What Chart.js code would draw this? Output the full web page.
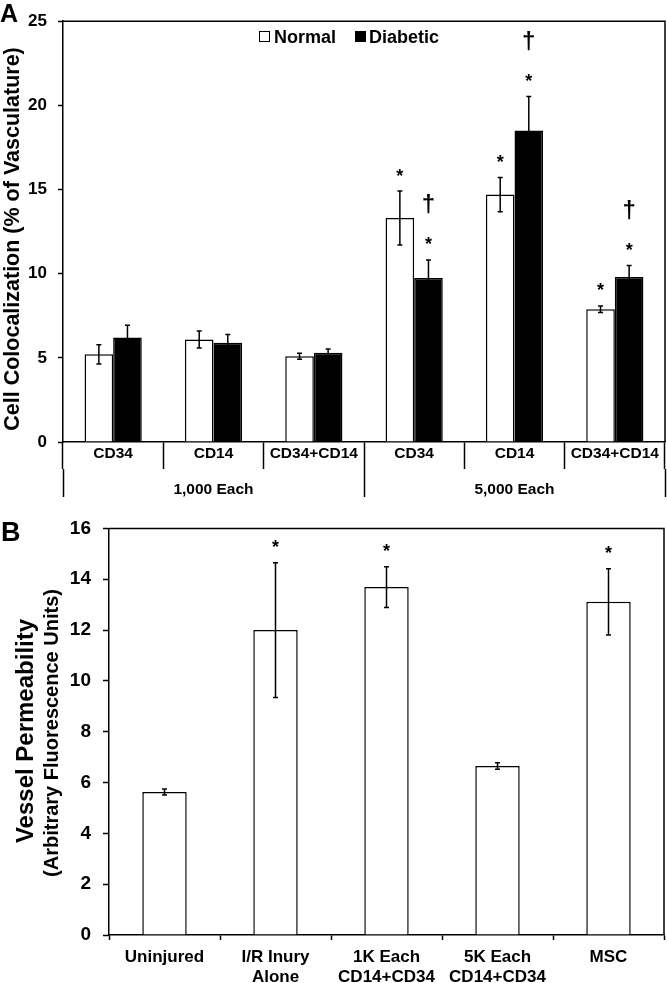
<!DOCTYPE html>
<html>
<head>
<meta charset="utf-8">
<script src="https://cdn.jsdelivr.net/npm/chart.js@4/dist/chart.umd.min.js"></script>
<style>
  html, body { margin: 0; padding: 0; background: #fff; }
  #wrap { position: relative; width: 667px; height: 983px; overflow: hidden; }
  canvas { position: absolute; left: 0; }
  .panel, .lgtext { position: absolute; font-family: 'Liberation Sans', Arial, sans-serif; font-weight: bold; line-height: 1; color: #000; white-space: nowrap; }
  .lgbox { position: absolute; box-sizing: border-box; border: 1.3px solid #000; }
</style>
</head>
<body>
<div id="wrap">
  <canvas id="chartA" width="667" height="505" style="top:0"></canvas>
  <canvas id="chartB" width="667" height="478" style="top:505px"></canvas>
  <div class="panel" style="left:0px;top:1px;font-size:25px;">A</div>
  <div class="panel" style="left:1px;top:519px;font-size:27px;">B</div>
  <div id="legendA"></div>
</div>
<script>
// ---------- Panel A data ----------
const categoriesA = ['CD34', 'CD14', 'CD34+CD14', 'CD34', 'CD14', 'CD34+CD14'];
const groupsA = ['1,000 Each', '5,000 Each'];
const seriesA = ['Normal', 'Diabetic'];
const normalA = [5.21, 6.09, 5.09, 13.31, 14.7, 7.89];
const normalErrA = [0.57, 0.5, 0.18, 1.6, 1.02, 0.19];
const diabeticA = [6.21, 5.9, 5.3, 9.74, 18.5, 9.8];
const diabeticErrA = [0.73, 0.48, 0.23, 1.08, 2.03, 0.69];
const normalMarksA = ['', '', '', '*', '*', '*'];
const diabeticMarksA = ['', '', '', '*†', '*†', '*†'];
const yTitleA = 'Cell Colocalization (% of Vasculature)';

// ---------- Panel B data ----------
const categoriesB = ['Uninjured', ['I/R Inury', 'Alone'], ['1K Each', 'CD14+CD34'], ['5K Each', 'CD14+CD34'], 'MSC'];
const valuesB = [5.63, 12.0, 13.69, 6.65, 13.11];
const errB = [0.12, 2.65, 0.8, 0.13, 1.3];
const marksB = ['', '*', '*', '', '*'];
const yTitleB1 = 'Vessel Permeability';
const yTitleB2 = '(Arbitrary Fluorescence Units)';

const FONT = "'Liberation Sans', Arial, sans-serif";

// error bars + significance marks
const errPlugin = {
  id: 'errs',
  afterDatasetsDraw(chart) {
    const ctx = chart.ctx;
    const ys = chart.scales.y;
    chart.data.datasets.forEach((ds, di) => {
      const meta = chart.getDatasetMeta(di);
      meta.data.forEach((bar, i) => {
        const v = ds.data[i], e = ds.errors[i];
        const x = bar.x;
        const yT = ys.getPixelForValue(v + e), yB = ys.getPixelForValue(v - e);
        ctx.save();
        ctx.strokeStyle = '#000';
        ctx.lineWidth = 1.5;
        ctx.beginPath();
        ctx.moveTo(x, yT); ctx.lineTo(x, yB);
        ctx.moveTo(x - 2.5, yT); ctx.lineTo(x + 2.5, yT);
        ctx.moveTo(x - 2.5, yB); ctx.lineTo(x + 2.5, yB);
        ctx.stroke();
        const marks = (ds.marks && ds.marks[i]) || '';
        ctx.fillStyle = '#000';
        ctx.textAlign = 'center';
        ctx.textBaseline = 'alphabetic';
        [...marks].forEach((m, k) => {
          const cy = yT - 20 - 34 * k;
          if (m === '*') {
            ctx.font = 'bold 18px ' + FONT;
            ctx.fillText(m, x, cy + 10.5);
          } else {
            ctx.font = 'bold 24px ' + FONT;
            ctx.fillText(m, x, cy + 6.5);
          }
        });
        ctx.restore();
      });
    });
  }
};

// top and right frame + y titles
const framePlugin = {
  id: 'frame',
  afterDraw(chart, args, opts) {
    const ctx = chart.ctx, ca = chart.chartArea;
    ctx.save();
    ctx.strokeStyle = '#000';
    ctx.lineWidth = 1.5;
    ctx.beginPath();
    ctx.moveTo(ca.left, ca.top); ctx.lineTo(ca.right, ca.top); ctx.lineTo(ca.right, ca.bottom);
    ctx.stroke();
    ctx.fillStyle = '#000';
    ctx.textAlign = 'center';
    ctx.textBaseline = 'middle';
    (opts.titles || []).forEach(t => {
      ctx.save();
      ctx.translate(t.x, t.y);
      ctx.rotate(-Math.PI / 2);
      ctx.font = 'bold ' + t.size + 'px ' + FONT;
      ctx.fillText(t.text, 0, 0);
      ctx.restore();
    });
    ctx.restore();
  }
};

Chart.defaults.font.family = FONT;
Chart.defaults.color = '#000';

const chartA = new Chart(document.getElementById('chartA'), {
  type: 'bar',
  data: {
    labels: categoriesA,
    datasets: [
      { label: seriesA[0], data: normalA, errors: normalErrA, marks: normalMarksA,
        backgroundColor: '#fff', borderColor: '#000', borderWidth: 1.5 },
      { label: seriesA[1], data: diabeticA, errors: diabeticErrA, marks: diabeticMarksA,
        backgroundColor: '#000', borderColor: '#000', borderWidth: 1.5 }
    ]
  },
  options: {
    responsive: false,
    animation: false,
    devicePixelRatio: 1,
    layout: { padding: { top: 10, right: 2, left: 0, bottom: 0 } },
    datasets: { bar: { categoryPercentage: 0.57, barPercentage: 1.0 } },
    plugins: {
      tooltip: { enabled: false },
      legend: { display: false },
      frame: {
        titles: [{ text: yTitleA, x: 13, y: 239, size: 21.5 }]
      }
    },
    scales: {
      y: {
        min: 0, max: 25,
        ticks: { stepSize: 5, padding: 11, color: '#000', font: { size: 17, weight: 'bold' } },
        grid: { drawOnChartArea: false, tickLength: 5, tickWidth: 1.5, tickColor: '#000' },
        border: { color: '#000', width: 1.5 },
        afterFit: s => { s.width = 63; }
      },
      x: {
        offset: true,
        weight: 0,
        grid: { offset: true, drawOnChartArea: false, tickLength: 27, tickWidth: 1.5, tickColor: '#000' },
        border: { color: '#000', width: 1.5 },
        ticks: { padding: -25, maxRotation: 0, autoSkip: false, color: '#000', font: { size: 15.5, weight: 'bold' } },
        afterFit: s => { s.height = 27; }
      },
      x2: {
        type: 'category',
        labels: groupsA,
        position: 'bottom',
        offset: true,
        weight: 1,
        grid: { offset: true, drawOnChartArea: false, tickLength: 28, tickWidth: 1.5, tickColor: '#000' },
        border: { display: false },
        ticks: { padding: -17, maxRotation: 0, autoSkip: false, color: '#000', font: { size: 15.5, weight: 'bold' } },
        afterFit: s => { s.height = 36; }
      }
    }
  },
  plugins: [errPlugin, framePlugin]
});

// HTML legend for panel A, built from the chart's datasets
(function () {
  const lg = document.getElementById('legendA');
  const boxX = [259, 355];
  const textX = [274, 369];
  chartA.data.datasets.forEach((ds, i) => {
    const b = document.createElement('div');
    b.className = 'lgbox';
    b.style.left = boxX[i] + 'px';
    b.style.top = '31px';
    b.style.width = '11px';
    b.style.height = '11px';
    b.style.background = ds.backgroundColor;
    lg.appendChild(b);
    const t = document.createElement('div');
    t.className = 'lgtext';
    t.style.left = textX[i] + 'px';
    t.style.top = '27.5px';
    t.style.fontSize = '18px';
    t.textContent = ds.label;
    lg.appendChild(t);
  });
})();

new Chart(document.getElementById('chartB'), {
  type: 'bar',
  data: {
    labels: categoriesB,
    datasets: [
      { label: 'Vessel Permeability', data: valuesB, errors: errB, marks: marksB,
        backgroundColor: '#fff', borderColor: '#000', borderWidth: 1.5 }
    ]
  },
  options: {
    responsive: false,
    animation: false,
    devicePixelRatio: 1,
    layout: { padding: { top: 22, right: 3, left: 0, bottom: 0 } },
    datasets: { bar: { categoryPercentage: 1.0, barPercentage: 0.4 } },
    plugins: {
      tooltip: { enabled: false },
      legend: { display: false },
      frame: {
        titles: [
          { text: yTitleB1, x: 26, y: 226, size: 24 },
          { text: yTitleB2, x: 52, y: 228, size: 20 }
        ]
      }
    },
    scales: {
      y: {
        min: 0, max: 16,
        ticks: { stepSize: 2, padding: 12, color: '#000', font: { size: 19, weight: 'bold' } },
        grid: { drawOnChartArea: false, tickLength: 6, tickWidth: 1.5, tickColor: '#000' },
        border: { color: '#000', width: 1.5 },
        afterFit: s => { s.width = 109; }
      },
      x: {
        offset: true,
        grid: { offset: true, drawOnChartArea: false, tickLength: 5, tickWidth: 1.5, tickColor: '#000' },
        border: { color: '#000', width: 1.5 },
        ticks: { padding: 7.5, maxRotation: 0, autoSkip: false, color: '#000',
                 font: { size: 17, weight: 'bold', lineHeight: 1.15 } },
        afterFit: s => { s.height = 48; }
      }
    }
  },
  plugins: [errPlugin, framePlugin]
});
</script>
</body>
</html>
